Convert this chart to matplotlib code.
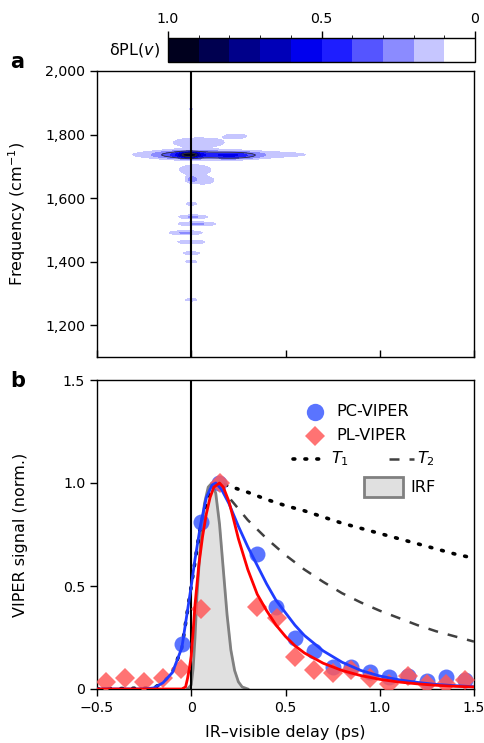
import numpy as np
import matplotlib
matplotlib.use("Agg")
import matplotlib.pyplot as plt
from matplotlib.colors import ListedColormap, BoundaryNorm
from matplotlib.cm import ScalarMappable
from matplotlib.patches import Rectangle

plt.rcParams['font.family'] = ['DejaVu Sans']
plt.rcParams['mathtext.fontset'] = 'dejavusans'
plt.rcParams['axes.linewidth'] = 1.0

# ---------------- data: panel a (features of the delta-PL map) ----------------
blob_t = [-0.01, -0.03, 0.22, 0.17, 0.04, 0.24, 0.02, 0.06,
          0.00, 0.01, 0.03, -0.03, 0.00, 0.00, 0.00, 0.00, 0.00, 0.00]
blob_f = [1736, 1736, 1734, 1737, 1775, 1795, 1690, 1655,
          1582, 1541, 1519, 1491, 1462, 1427, 1400, 1280, 1880, 1660]
blob_st = [0.035, 0.11, 0.09, 0.40, 0.13, 0.05, 0.08, 0.06,
           0.025, 0.06, 0.08, 0.07, 0.06, 0.04, 0.03, 0.03, 0.015, 0.02]
blob_sf = [6, 9, 8, 10, 14, 6, 14, 11,
           4, 5, 5, 5, 5, 4, 4, 4, 4, 8]
blob_amp = [0.55, 0.33, 0.33, 0.18, 0.17, 0.16, 0.17, 0.16,
            0.18, 0.22, 0.22, 0.22, 0.20, 0.18, 0.16, 0.16, 0.12, 0.15]

cbar_colors = ['#ffffff', '#c6c6ff', '#8b8bff', '#5555ff', '#1e1eff',
               '#0000ee', '#0000b8', '#00008a', '#000050', '#00001e']
cbar_levels = [0.0, 0.1, 0.2, 0.3, 0.4, 0.5, 0.6, 0.7, 0.8, 0.9, 1.0]

# ---------------- data: panel b ----------------
pc_t = [-0.05, 0.05, 0.145, 0.35, 0.45, 0.55, 0.65, 0.75, 0.85, 0.95, 1.05, 1.15, 1.25, 1.35, 1.45]
pc_v = [0.22, 0.81, 1.00, 0.655, 0.40, 0.25, 0.186, 0.108, 0.108, 0.084, 0.06, 0.063, 0.039, 0.057, 0.044]

pl_t = [-0.45, -0.35, -0.25, -0.15, -0.055, 0.05, 0.15, 0.35, 0.455, 0.55, 0.65, 0.75, 0.85, 0.95, 1.05, 1.15, 1.25, 1.35, 1.45]
pl_v = [0.035, 0.052, 0.035, 0.052, 0.097, 0.39, 1.00, 0.40, 0.343, 0.157, 0.092, 0.08, 0.092, 0.052, 0.024, 0.063, 0.024, 0.024, 0.044]

pcfit_t = [-0.5, -0.25, -0.2, -0.15, -0.1, -0.05, -0.02, 0.0, 0.02, 0.05, 0.08, 0.11, 0.13, 0.16, 0.2,
           0.25, 0.3, 0.35, 0.4, 0.45, 0.5, 0.55, 0.6, 0.7, 0.8, 0.9, 1.0, 1.1, 1.2, 1.3, 1.4, 1.5]
pcfit_v = [0.0, 0.0, 0.005, 0.03, 0.08, 0.2, 0.38, 0.5, 0.63, 0.8, 0.93, 0.99, 1.0, 0.97, 0.9,
           0.79, 0.69, 0.6, 0.51, 0.43, 0.37, 0.31, 0.26, 0.185, 0.13, 0.09, 0.063, 0.045, 0.032, 0.022, 0.016, 0.011]

plfit_t = [-0.5, -0.05, -0.03, -0.02, -0.01, 0.0, 0.01, 0.02, 0.04, 0.06, 0.08, 0.1, 0.12, 0.15, 0.17,
           0.2, 0.22, 0.25, 0.3, 0.35, 0.4, 0.45, 0.5, 0.55, 0.6, 0.7, 0.8, 0.9, 1.0, 1.1, 1.2, 1.3, 1.4, 1.5]
plfit_v = [0.0, 0.0, 0.01, 0.05, 0.1, 0.16, 0.28, 0.41, 0.6, 0.74, 0.85, 0.93, 0.98, 1.0, 0.98,
           0.91, 0.84, 0.73, 0.58, 0.46, 0.38, 0.31, 0.255, 0.21, 0.175, 0.125, 0.09, 0.065, 0.047, 0.034, 0.025, 0.018, 0.013, 0.01]

t1_t = [-0.5, -0.2, -0.15, -0.1, -0.05, 0.0, 0.05, 0.1, 0.15, 0.2, 0.3, 0.4, 0.5, 0.6, 0.7, 0.8, 0.9, 1.0, 1.1, 1.2, 1.3, 1.4, 1.5]
t1_v = [0.0, 0.005, 0.03, 0.08, 0.2, 0.5, 0.8, 0.97, 1.0, 0.985, 0.955, 0.92, 0.89, 0.865, 0.835, 0.805, 0.78, 0.755, 0.73, 0.705, 0.68, 0.655, 0.635]

t2_t = [0.15, 0.2, 0.3, 0.4, 0.5, 0.6, 0.7, 0.8, 0.9, 1.0, 1.1, 1.2, 1.3, 1.4, 1.5]
t2_v = [1.0, 0.93, 0.82, 0.73, 0.65, 0.58, 0.52, 0.465, 0.42, 0.38, 0.345, 0.31, 0.28, 0.255, 0.23]

irf_t = [-0.02, 0.0, 0.01, 0.02, 0.03, 0.05, 0.07, 0.09, 0.11, 0.13, 0.15, 0.17, 0.19, 0.21, 0.23, 0.25, 0.27, 0.30]
irf_v = [0.0, 0.02, 0.1, 0.25, 0.45, 0.72, 0.9, 0.98, 1.0, 0.95, 0.8, 0.58, 0.36, 0.19, 0.09, 0.035, 0.01, 0.0]

# ---------------- figure ----------------
W, H = 484, 743
fig = plt.figure(figsize=(W / 100, H / 100), dpi=100)

def frac(x0, y0, x1, y1):
    return [x0 / W, 1 - y1 / H, (x1 - x0) / W, (y1 - y0) / H]

axa = fig.add_axes(frac(97, 71, 474, 357))
axb = fig.add_axes(frac(97, 380, 474, 689))
cax = fig.add_axes(frac(168, 38, 475, 62))

TICK = 10.2
LAB = 11.5
LEG = 11.6

# ---- panel a ----
tt = np.linspace(-0.5, 1.5, 801)
ff = np.linspace(1100, 2000, 901)
T, F = np.meshgrid(tt, ff)
Z = np.zeros_like(T)
for bt, bf, st, sf, a in zip(blob_t, blob_f, blob_st, blob_sf, blob_amp):
    Z += a * np.exp(-0.5 * ((T - bt) / st) ** 2 - 0.5 * ((F - bf) / sf) ** 2)
Z = np.clip(Z, 0, 0.999)

cmap = ListedColormap(cbar_colors)
norm = BoundaryNorm(cbar_levels, cmap.N)
axa.contourf(T, F, Z, levels=cbar_levels, colors=cbar_colors)
axa.contour(T, F, Z, levels=[0.3, 0.8], colors='#333333', linewidths=0.6)
axa.axvline(0, color='black', lw=1.5, zorder=5)
axa.set_xlim(-0.5, 1.5)
axa.set_ylim(1100, 2000)
axa.set_yticks([1200, 1400, 1600, 1800, 2000])
axa.set_yticklabels(['1,200', '1,400', '1,600', '1,800', '2,000'])
axa.set_xticks([-0.5, 0, 0.5, 1.0, 1.5])
axa.tick_params(axis='x', direction='in', labelbottom=False, length=5, width=1)
axa.tick_params(axis='y', direction='out', length=5, width=1, labelsize=TICK)
axa.set_ylabel('Frequency (cm$^{-1}$)', fontsize=LAB)
axa.yaxis.set_label_coords(-0.183, 0.5)

# ---- colorbar ----
sm = ScalarMappable(norm=norm, cmap=cmap)
cb = fig.colorbar(sm, cax=cax, orientation='horizontal', ticks=[1.0, 0.5, 0.0])
cax.invert_xaxis()
cax.xaxis.set_ticks_position('top')
cax.xaxis.set_label_position('top')
cb.set_ticklabels(['1.0', '0.5', '0'])
cax.tick_params(axis='x', direction='out', length=5, width=1, labelsize=TICK)
cb.outline.set_linewidth(1.0)
fig.text(160 / W, 1 - 50 / H, r'δPL($\mathit{v}$)', ha='right', va='center', fontsize=LAB)

# ---- panel b ----
axb.fill_between(irf_t, irf_v, color='#e0e0e0', zorder=1)
axb.plot(irf_t, irf_v, color='#808080', lw=2, zorder=2)
axb.plot(t1_t, t1_v, color='black', lw=2.6, ls=(0, (0.5, 2.8)), dash_capstyle='round', zorder=3)
axb.plot(t2_t, t2_v, color='#404040', lw=1.8, ls=(0, (4, 4)), zorder=3)
axb.plot(pc_t, pc_v, 'o', color='#3d5cff', alpha=0.85, ms=11.5, mew=0, zorder=4)
axb.plot(pl_t, pl_v, 'D', color='#ff5a5a', alpha=0.85, ms=10, mew=0, zorder=5)
axb.plot(pcfit_t, pcfit_v, color='#1f3cff', lw=2, zorder=6)
axb.plot(plfit_t, plfit_v, color='#ff0000', lw=2, zorder=7)
axb.axvline(0, color='black', lw=1.5, zorder=3)
axb.set_xlim(-0.5, 1.5)
axb.set_ylim(0, 1.5)
axb.set_xticks([-0.5, 0, 0.5, 1.0, 1.5])
axb.set_xticklabels(['\u22120.5', '0', '0.5', '1.0', '1.5'])
axb.set_yticks([0, 0.5, 1.0, 1.5])
axb.set_yticklabels(['0', '0.5', '1.0', '1.5'])
axb.tick_params(direction='out', length=5, width=1, labelsize=TICK)
axb.set_ylabel('VIPER signal (norm.)', fontsize=LAB)
axb.yaxis.set_label_coords(-0.183, 0.5)
axb.set_xlabel('IR\u2013visible delay (ps)', fontsize=LAB, labelpad=7)

# legend (manual)
def px2d(x, y):
    return ((x - 191.25) / 188.5, (689 - y) / 206.0)

lx, ly = px2d(315, 412)
axb.plot([lx], [ly], 'o', color='#3d5cff', alpha=0.85, ms=12.5, mew=0)
tx, _ = px2d(336, 0)
axb.text(tx, ly, 'PC-VIPER', va='center', ha='left', fontsize=LEG)
lx, ly = px2d(315, 436)
axb.plot([lx], [ly], 'D', color='#ff5a5a', alpha=0.85, ms=10.5, mew=0)
axb.text(tx, ly, 'PL-VIPER', va='center', ha='left', fontsize=LEG)
x0, ly = px2d(293, 459)
x1, _ = px2d(327, 459)
axb.plot([x0, x1], [ly, ly], color='black', lw=2.6, ls=(0, (0.5, 2.8)), dash_capstyle='round')
xt, _ = px2d(331, 459)
axb.text(xt, ly, r'$\mathit{T}_{\mathrm{1}}$', va='center', ha='left', fontsize=LEG)
x0, _ = px2d(389, 459)
x1, _ = px2d(414, 459)
axb.plot([x0, x1], [ly, ly], color='#404040', lw=1.8, ls=(0, (4, 4)))
xt, _ = px2d(417, 459)
axb.text(xt, ly, r'$\mathit{T}_{\mathrm{2}}$', va='center', ha='left', fontsize=LEG)
rx0, ry0 = px2d(364, 497)
rx1, ry1 = px2d(403, 477)
axb.add_patch(Rectangle((rx0, ry0), rx1 - rx0, ry1 - ry0, facecolor='#e0e0e0',
                        edgecolor='#808080', lw=2, zorder=4))
xt, _ = px2d(410, 0)
axb.text(xt, (ry0 + ry1) / 2, 'IRF', va='center', ha='left', fontsize=LEG)

# panel labels
fig.text(10 / W, 1 - 62 / H, 'a', fontsize=15, fontweight='bold', ha='left', va='center')
fig.text(10 / W, 1 - 381 / H, 'b', fontsize=15, fontweight='bold', ha='left', va='center')

fig.savefig('out.png', dpi=100)
